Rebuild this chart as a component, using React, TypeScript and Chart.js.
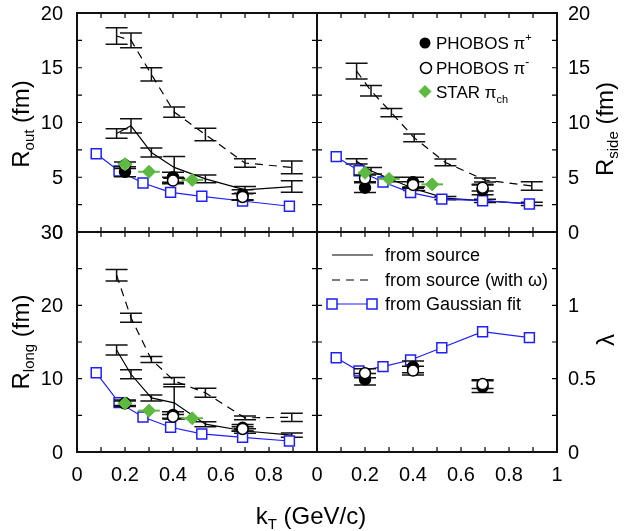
import React, { useEffect, useRef } from 'react';
import { Chart, registerables } from 'chart.js';

Chart.register(...registerables);

const W = 624;
const H = 531;
const FONT = '"Liberation Sans", Arial, Helvetica, sans-serif';
const BLUE = '#1e1eff';
const GREEN = '#5bba3f';

// ---------- data ----------
const kTModel = [0.165, 0.225, 0.31, 0.405, 0.535, 0.7, 0.895];
const kTGauss = [0.08, 0.175, 0.275, 0.39, 0.52, 0.69, 0.885];
const kTPhobos = [0.2, 0.4, 0.69];
const kTStar = [0.2, 0.3, 0.48];
const kTStarErr = [0.03, 0.045, 0.045];

// R_out
const rOutSrc = [9.0, 9.7, 7.25, 5.9, 4.85, 3.85, 4.15];
const rOutSrcErr = [0.43, 0.65, 0.41, 1.0, 0.35, 0.3, 0.52];
const rOutOmega = [17.9, 17.5, 14.4, 10.95, 8.9, 6.3, 5.9];
const rOutOmegaErr = [0.76, 0.68, 0.61, 0.46, 0.57, 0.38, 0.58];
const rOutGauss = [7.15, 5.57, 4.47, 3.62, 3.26, 2.83, 2.35];
const rOutPhobosPlus = [5.5, 5.0, 3.4];
const rOutPhobosMinus = [6.1, 4.7, 3.2];
const rOutStar = [6.2, 5.5, 4.75];

// R_side
const rSideSrc = [6.45, 5.6, 4.8, 3.95, 3.1, 2.85, 2.56];
const rSideSrcErr = [0.25, 0.3, 0.2, 0.15, 0.15, 0.15, 0.15];
const rSideOmega = [14.7, 12.9, 10.9, 8.6, 6.35, 4.75, 4.2];
const rSideOmegaErr = [0.72, 0.49, 0.37, 0.35, 0.31, 0.18, 0.39];
const rSideGauss = [6.88, 5.6, 4.57, 3.6, 3.0, 2.86, 2.56];
const rSidePhobosPlus = [4.05, 4.54, 3.85];
const rSidePhobosMinus = [4.9, 4.3, 4.05];
const rSideStar = [5.4, 4.85, 4.35];

// R_long
const rLongSrc = [13.9, 10.6, 7.37, 6.7, 3.8, 2.86, 2.3];
const rLongSrcErr = [0.68, 0.61, 0.41, 2.2, 0.34, 0.3, 0.3];
const rLongOmega = [24.1, 18.3, 12.6, 9.7, 8.07, 4.66, 4.73];
const rLongOmegaErr = [0.77, 0.61, 0.41, 0.45, 0.61, 0.25, 0.57];
const rLongGauss = [10.8, 6.73, 4.77, 3.37, 2.46, 2.0, 1.5];
const rLongPhobosPlus = [6.64, 5.05, 3.3];
const rLongPhobosMinus = [6.64, 4.82, 3.14];
const rLongStar = [6.64, 5.64, 4.6];

// lambda
const lamGauss = [0.643, 0.552, 0.582, 0.627, 0.711, 0.82, 0.78];
const lamPhobosPlus = [0.496, 0.58, 0.445];
const lamPhobosMinus = [0.537, 0.555, 0.463];

const rPhobosPlusErr = [0.45, 0.45, 0.45];
const rPhobosMinusErr = [0.3, 0.3, 0.3];
const lamPhobosPlusErr = [0.04, 0.04, 0.04];
const lamPhobosMinusErr = [0.03, 0.03, 0.03];

// tick labels
const xLabelsLeft = [0, 0.2, 0.4, 0.6, 0.8];
const xLabelsRight = [0, 0.2, 0.4, 0.6, 0.8, 1];
const yLabelsR = [0, 5, 10, 15, 20];
const yLabelsLong = [0, 10, 20, 30];
const yLabelsLam = [0, 0.5, 1];

// ---------- helpers ----------
type Seg = { t: string; size: number; dy?: number };

function segsWidth(ctx: CanvasRenderingContext2D, segs: Seg[]) {
  let w = 0;
  for (const s of segs) {
    ctx.font = `${s.size}px ${FONT}`;
    w += ctx.measureText(s.t).width;
  }
  return w;
}

function drawSegs(ctx: CanvasRenderingContext2D, segs: Seg[], x: number, y: number, align: 'left' | 'center') {
  const w = segsWidth(ctx, segs);
  let cx = align === 'center' ? x - w / 2 : x;
  ctx.textAlign = 'left';
  ctx.textBaseline = 'alphabetic';
  ctx.fillStyle = '#000';
  for (const s of segs) {
    ctx.font = `${s.size}px ${FONT}`;
    ctx.fillText(s.t, cx, y + (s.dy || 0));
    cx += ctx.measureText(s.t).width;
  }
}

function drawRotated(ctx: CanvasRenderingContext2D, segs: Seg[], cx: number, cy: number) {
  ctx.save();
  ctx.translate(cx, cy);
  ctx.rotate(-Math.PI / 2);
  drawSegs(ctx, segs, 0, 8, 'center');
  ctx.restore();
}

function lineDS(ys: number[], err: number[], dash: number[]) {
  return {
    data: kTModel.map((x, i) => ({ x, y: ys[i] })),
    borderColor: '#000',
    borderWidth: 1.2,
    borderDash: dash,
    pointRadius: 0,
    fill: false,
    errY: err,
    capHalf: 11,
    errColor: '#111',
    order: dash.length ? 6 : 5,
  };
}

function gaussDS(ys: number[]) {
  return {
    data: kTGauss.map((x, i) => ({ x, y: ys[i] })),
    borderColor: BLUE,
    borderWidth: 1.2,
    pointStyle: 'rect',
    pointRadius: 7,
    pointBorderWidth: 1.5,
    pointBackgroundColor: '#fff',
    pointBorderColor: BLUE,
    fill: false,
    order: 3,
  };
}

function phobosDS(ys: number[], err: number[], filled: boolean) {
  return {
    data: kTPhobos.map((x, i) => ({ x, y: ys[i] })),
    showLine: false,
    pointStyle: 'circle',
    pointRadius: 5.5,
    pointBorderWidth: 1.5,
    pointBackgroundColor: filled ? '#000' : '#fff',
    pointBorderColor: '#000',
    borderColor: '#000',
    errY: err,
    capHalf: 11,
    errColor: '#111',
    order: filled ? 2 : 1,
  };
}

function starDS(ys: number[]) {
  return {
    data: kTStar.map((x, i) => ({ x, y: ys[i] })),
    showLine: false,
    pointStyle: 'rectRot',
    pointRadius: 6.5,
    pointBorderWidth: 1,
    pointBackgroundColor: GREEN,
    pointBorderColor: GREEN,
    borderColor: GREEN,
    errX: kTStarErr,
    errColor: GREEN,
    errWidth: 2,
    order: 0,
  };
}

type PanelCfg = {
  l: number; t: number; r: number; b: number;
  yMin: number; yMax: number; yStep: number;
  yLabels: number[]; ySide: 'left' | 'right';
  xLabels: number[];
  datasets: any[];
  extra?: (ctx: CanvasRenderingContext2D) => void;
};

function makePlugin(p: PanelCfg) {
  return {
    id: 'panelFrame',
    beforeDatasetDraw(chart: any, args: any) {
      const ds = chart.data.datasets[args.index];
      if (!ds.errY && !ds.errX) return;
      const ctx = chart.ctx as CanvasRenderingContext2D;
      const xs = chart.scales.x;
      const ys = chart.scales.y;
      ctx.save();
      ctx.strokeStyle = ds.errColor || '#000';
      ctx.lineWidth = ds.errWidth || 1.5;
      ctx.setLineDash([]);
      ds.data.forEach((pt: any, i: number) => {
        const px = xs.getPixelForValue(pt.x);
        const py = ys.getPixelForValue(pt.y);
        if (ds.errY) {
          const e = ds.errY[i];
          const y1 = ys.getPixelForValue(pt.y + e);
          const y2 = ys.getPixelForValue(pt.y - e);
          const c = ds.capHalf || 10;
          ctx.beginPath();
          ctx.moveTo(px, y1); ctx.lineTo(px, y2);
          ctx.moveTo(px - c, y1); ctx.lineTo(px + c, y1);
          ctx.moveTo(px - c, y2); ctx.lineTo(px + c, y2);
          ctx.stroke();
        }
        if (ds.errX) {
          const e = ds.errX[i];
          const x1 = xs.getPixelForValue(pt.x - e);
          const x2 = xs.getPixelForValue(pt.x + e);
          ctx.beginPath();
          ctx.moveTo(x1, py); ctx.lineTo(x2, py);
          ctx.stroke();
        }
      });
      ctx.restore();
    },
    afterDraw(chart: any) {
      const ctx = chart.ctx as CanvasRenderingContext2D;
      const xs = chart.scales.x;
      const ys = chart.scales.y;
      const a = chart.chartArea;
      ctx.save();
      ctx.setLineDash([]);
      ctx.strokeStyle = '#000';
      ctx.lineWidth = 1.2;
      const TL = 5;
      ctx.beginPath();
      for (let k = 1; k < 10; k++) {
        const px = xs.getPixelForValue(k / 10);
        ctx.moveTo(px, a.top); ctx.lineTo(px, a.top + TL);
        ctx.moveTo(px, a.bottom); ctx.lineTo(px, a.bottom - TL);
      }
      const n = Math.round((p.yMax - p.yMin) / p.yStep);
      for (let k = 1; k < n; k++) {
        const py = ys.getPixelForValue(p.yMin + k * p.yStep);
        ctx.moveTo(a.left, py); ctx.lineTo(a.left + TL, py);
        ctx.moveTo(a.right, py); ctx.lineTo(a.right - TL, py);
      }
      ctx.stroke();
      ctx.lineWidth = 2;
      ctx.strokeStyle = '#111';
      ctx.strokeRect(a.left, a.top, a.right - a.left, a.bottom - a.top);

      ctx.fillStyle = '#000';
      ctx.font = `20px ${FONT}`;
      ctx.textBaseline = 'middle';
      for (const v of p.yLabels) {
        const py = ys.getPixelForValue(v);
        if (p.ySide === 'left') {
          ctx.textAlign = 'right';
          ctx.fillText(String(v), a.left - 14, py + 1);
        } else {
          ctx.textAlign = 'left';
          ctx.fillText(String(v), a.right + 11, py + 1);
        }
      }
      ctx.textAlign = 'center';
      for (const v of p.xLabels) {
        const px = xs.getPixelForValue(v);
        ctx.fillText(String(v), px, a.bottom + 23);
      }
      if (p.extra) p.extra(ctx);
      ctx.restore();
    },
  };
}

const panels: PanelCfg[] = [
  {
    l: 77, t: 13, r: 317, b: 232, yMin: 0, yMax: 20, yStep: 2.5,
    yLabels: yLabelsR, ySide: 'left', xLabels: [],
    datasets: [
      starDS(rOutStar),
      phobosDS(rOutPhobosMinus, rPhobosMinusErr, false),
      phobosDS(rOutPhobosPlus, rPhobosPlusErr, true),
      gaussDS(rOutGauss),
      lineDS(rOutSrc, rOutSrcErr, []),
      lineDS(rOutOmega, rOutOmegaErr, [8, 6]),
    ],
    extra: (ctx) => {
      drawRotated(ctx, [
        { t: 'R', size: 24 },
        { t: 'out', size: 15, dy: 5 },
        { t: ' (fm)', size: 24 },
      ], 21, 124);
    },
  },
  {
    l: 317, t: 13, r: 557, b: 232, yMin: 0, yMax: 20, yStep: 2.5,
    yLabels: yLabelsR, ySide: 'right', xLabels: [],
    datasets: [
      starDS(rSideStar),
      phobosDS(rSidePhobosMinus, rPhobosMinusErr, false),
      phobosDS(rSidePhobosPlus, rPhobosPlusErr, true),
      gaussDS(rSideGauss),
      lineDS(rSideSrc, rSideSrcErr, []),
      lineDS(rSideOmega, rSideOmegaErr, [8, 6]),
    ],
    extra: (ctx) => {
      drawRotated(ctx, [
        { t: 'R', size: 24 },
        { t: 'side', size: 15, dy: 5 },
        { t: ' (fm)', size: 24 },
      ], 605, 129);
      // legend
      ctx.fillStyle = '#000';
      ctx.beginPath(); ctx.arc(425, 43, 5.5, 0, Math.PI * 2); ctx.fill();
      ctx.lineWidth = 1.5; ctx.strokeStyle = '#000';
      ctx.beginPath(); ctx.arc(426, 68, 5.5, 0, Math.PI * 2);
      ctx.fillStyle = '#fff'; ctx.fill(); ctx.stroke();
      ctx.fillStyle = GREEN;
      ctx.beginPath();
      ctx.moveTo(425, 85); ctx.lineTo(431.5, 91.5); ctx.lineTo(425, 98); ctx.lineTo(418.5, 91.5);
      ctx.closePath(); ctx.fill();
      drawSegs(ctx, [{ t: 'PHOBOS π', size: 17 }, { t: '+', size: 11, dy: -8 }], 436, 49, 'left');
      drawSegs(ctx, [{ t: 'PHOBOS π', size: 17 }, { t: '-', size: 12, dy: -8 }], 436, 74, 'left');
      drawSegs(ctx, [{ t: 'STAR π', size: 17 }, { t: 'ch', size: 11, dy: 5 }], 436, 98, 'left');
    },
  },
  {
    l: 77, t: 232, r: 317, b: 452, yMin: 0, yMax: 30, yStep: 5,
    yLabels: yLabelsLong, ySide: 'left', xLabels: xLabelsLeft,
    datasets: [
      starDS(rLongStar),
      phobosDS(rLongPhobosMinus, rPhobosMinusErr, false),
      phobosDS(rLongPhobosPlus, rPhobosPlusErr, true),
      gaussDS(rLongGauss),
      lineDS(rLongSrc, rLongSrcErr, []),
      lineDS(rLongOmega, rLongOmegaErr, [8, 6]),
    ],
    extra: (ctx) => {
      drawRotated(ctx, [
        { t: 'R', size: 24 },
        { t: 'long', size: 15, dy: 5 },
        { t: ' (fm)', size: 24 },
      ], 21, 342);
      drawSegs(ctx, [
        { t: 'k', size: 24 },
        { t: 'T', size: 15, dy: 5 },
        { t: ' (GeV/c)', size: 24 },
      ], 311, 524, 'center');
    },
  },
  {
    l: 317, t: 232, r: 557, b: 452, yMin: 0, yMax: 1.5, yStep: 0.25,
    yLabels: yLabelsLam, ySide: 'right', xLabels: xLabelsRight,
    datasets: [
      phobosDS(lamPhobosMinus, lamPhobosMinusErr, false),
      phobosDS(lamPhobosPlus, lamPhobosPlusErr, true),
      gaussDS(lamGauss),
    ],
    extra: (ctx) => {
      drawRotated(ctx, [{ t: 'λ', size: 24 }], 606, 340);
      ctx.strokeStyle = '#000';
      ctx.lineWidth = 1.2;
      ctx.setLineDash([]);
      ctx.beginPath(); ctx.moveTo(332, 255); ctx.lineTo(373, 255); ctx.stroke();
      ctx.setLineDash([8, 6]);
      ctx.beginPath(); ctx.moveTo(332, 280); ctx.lineTo(374, 280); ctx.stroke();
      ctx.setLineDash([]);
      ctx.strokeStyle = BLUE;
      ctx.beginPath(); ctx.moveTo(332, 304); ctx.lineTo(374, 304); ctx.stroke();
      ctx.lineWidth = 1.5;
      ctx.fillStyle = '#fff';
      for (const cx of [332, 372]) {
        ctx.fillRect(cx - 5, 299, 10, 10);
        ctx.strokeRect(cx - 5, 299, 10, 10);
      }
      drawSegs(ctx, [{ t: 'from source', size: 18 }], 385, 261, 'left');
      drawSegs(ctx, [{ t: 'from source (with ω)', size: 18 }], 385, 286, 'left');
      drawSegs(ctx, [{ t: 'from Gaussian fit', size: 18 }], 385, 310, 'left');
    },
  },
];

function PanelChart({ cfg }: { cfg: PanelCfg }) {
  const ref = useRef<HTMLCanvasElement | null>(null);
  useEffect(() => {
    if (!ref.current) return;
    const chart = new Chart(ref.current, {
      type: 'line',
      data: { datasets: cfg.datasets as any },
      options: {
        animation: false,
        responsive: false,
        devicePixelRatio: 1,
        events: [],
        layout: { padding: { left: cfg.l, top: cfg.t, right: W - cfg.r, bottom: H - cfg.b } },
        scales: {
          x: { type: 'linear', min: 0, max: 1, display: false },
          y: { type: 'linear', min: cfg.yMin, max: cfg.yMax, display: false },
        },
        plugins: { legend: { display: false }, tooltip: { enabled: false } },
      },
      plugins: [makePlugin(cfg) as any],
    });
    return () => chart.destroy();
  }, [cfg]);
  return (
    <canvas
      ref={ref}
      width={W}
      height={H}
      style={{ position: 'absolute', left: 0, top: 0, width: W, height: H }}
    />
  );
}

export default function App() {
  return (
    <div style={{ position: 'fixed', left: 0, top: 0, width: W, height: H, background: '#fff' }}>
      {panels.map((p, i) => (
        <PanelChart key={i} cfg={p} />
      ))}
    </div>
  );
}
